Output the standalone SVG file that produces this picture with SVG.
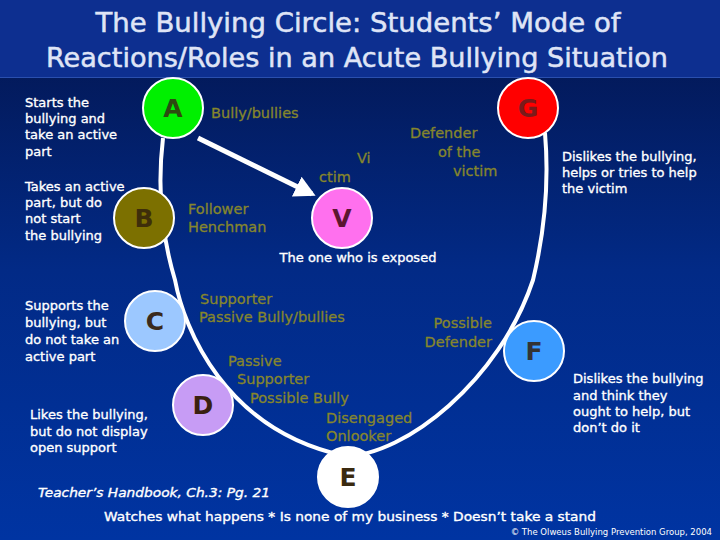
<svg xmlns="http://www.w3.org/2000/svg" width="720" height="540" viewBox="0 0 720 540">
<defs>
<linearGradient id="bg" x1="0" y1="0" x2="0" y2="1">
<stop offset="0" stop-color="#03144c"/>
<stop offset="0.5" stop-color="#022a86"/>
<stop offset="1" stop-color="#0034a2"/>
</linearGradient>
<marker id="arr" markerWidth="5" markerHeight="5" refX="3.4" refY="2.5" orient="auto" markerUnits="strokeWidth">
<path d="M0,0.3 L4.2,2.5 L0,4.7 Z" fill="#ffffff"/>
</marker>
<style>
.t{font-family:"DejaVu Sans",sans-serif;}
.w{fill:#ffffff;stroke:#ffffff;stroke-width:0.35px;font-size:13px;}
.o{fill:#86862c;stroke:#86862c;stroke-width:0.3px;font-size:14.5px;}
.lt{font-size:25px;font-weight:bold;text-anchor:middle;}
.c{stroke:#ffffff;stroke-width:2;}
.ttl{fill:#dfe4f6;stroke:#dfe4f6;stroke-width:0.5px;font-size:26px;text-anchor:middle;}
</style>
</defs>
<rect x="0" y="0" width="720" height="540" fill="url(#bg)"/>
<rect x="0" y="0" width="720" height="77" fill="#0d2f90"/>
<line x1="0" y1="77.5" x2="720" y2="77.5" stroke="#2a4fae" stroke-width="1"/>
<g id="title" class="t">
<text class="t ttl" x="358" y="32" textLength="525" lengthAdjust="spacingAndGlyphs">The Bullying Circle: Students’ Mode of</text>
<text class="t ttl" x="357" y="67" textLength="622" lengthAdjust="spacingAndGlyphs">Reactions/Roles in an Acute Bullying Situation</text>
</g>
<g id="connectors" fill="none" stroke="#ffffff">
<path d="M163,138 C158,180 160,230 175,280 C184,328 224,430 345,456 C405,456 500,380 533,280 C545,230 549,180 545,133" stroke-width="4"/>
<line x1="198" y1="138" x2="312" y2="194" stroke-width="5" marker-end="url(#arr)"/>
</g>
<g id="nodeA">
<circle class="c" cx="173" cy="108" r="30" fill="#00f000"/>
<text class="t lt" x="173" y="117" fill="#2d4a10">A</text>
<text class="t o" x="211" y="118">Bully/bullies</text>
<text class="t w" x="25" y="107">Starts the</text>
<text class="t w" x="25" y="123">bullying and</text>
<text class="t w" x="25" y="139">take an active</text>
<text class="t w" x="25" y="156">part</text>
</g>
<g id="nodeB">
<circle class="c" cx="144" cy="218" r="30" fill="#7c7000"/>
<text class="t lt" x="144" y="227" fill="#3e2e0a">B</text>
<text class="t o" x="188" y="214">Follower</text>
<text class="t o" x="188" y="232">Henchman</text>
<text class="t w" x="25" y="191">Takes an active</text>
<text class="t w" x="25" y="207">part, but do</text>
<text class="t w" x="25" y="223">not start</text>
<text class="t w" x="25" y="240">the bullying</text>
</g>
<g id="nodeV">
<circle class="c" cx="342" cy="218" r="30" fill="#ff70ee"/>
<text class="t lt" x="342" y="227" fill="#5c1530">V</text>
<text class="t o" x="357" y="163">Vi</text>
<text class="t o" x="319" y="182">ctim</text>
<text class="t w" x="358" y="262" text-anchor="middle">The one who is exposed</text>
</g>
<g id="nodeG">
<circle class="c" cx="528" cy="108" r="30" fill="#ff0000"/>
<text class="t lt" x="528" y="117" fill="#7a1a1a">G</text>
<text class="t o" x="410" y="138">Defender</text>
<text class="t o" x="438" y="157">of the</text>
<text class="t o" x="453" y="176">victim</text>
<text class="t w" x="562" y="161">Dislikes the bullying,</text>
<text class="t w" x="562" y="177">helps or tries to help</text>
<text class="t w" x="562" y="193">the victim</text>
</g>
<g id="nodeC">
<circle class="c" cx="155" cy="321" r="30" fill="#9cc8ff"/>
<text class="t lt" x="155" y="330" fill="#3a2a1c">C</text>
<text class="t o" x="200" y="304">Supporter</text>
<text class="t o" x="199" y="322">Passive Bully/bullies</text>
<text class="t w" x="25" y="310">Supports the</text>
<text class="t w" x="25" y="327">bullying, but</text>
<text class="t w" x="25" y="344">do not take an</text>
<text class="t w" x="25" y="361">active part</text>
</g>
<g id="nodeD">
<circle class="c" cx="203" cy="405" r="30" fill="#c79cf5"/>
<text class="t lt" x="203" y="414" fill="#3a2010">D</text>
<text class="t o" x="228" y="366">Passive</text>
<text class="t o" x="237" y="384">Supporter</text>
<text class="t o" x="250" y="403">Possible Bully</text>
<text class="t w" x="30" y="419">Likes the bullying,</text>
<text class="t w" x="30" y="436">but do not display</text>
<text class="t w" x="30" y="452">open support</text>
</g>
<g id="nodeE">
<circle class="c" cx="348" cy="477" r="30" fill="#ffffff"/>
<text class="t lt" x="348" y="486" fill="#3a2a10">E</text>
<text class="t o" x="326" y="423">Disengaged</text>
<text class="t o" x="326" y="441">Onlooker</text>
<text class="t w" x="350" y="521" text-anchor="middle" textLength="492" lengthAdjust="spacingAndGlyphs">Watches what happens * Is none of my business * Doesn’t take a stand</text>
</g>
<g id="nodeF">
<circle class="c" cx="534" cy="351" r="30" fill="#3b9bff"/>
<text class="t lt" x="534" y="360" fill="#333333">F</text>
<text class="t o" x="492" y="328" text-anchor="end">Possible</text>
<text class="t o" x="492" y="347" text-anchor="end">Defender</text>
<text class="t w" x="573" y="383">Dislikes the bullying</text>
<text class="t w" x="573" y="400">and think they</text>
<text class="t w" x="573" y="416">ought to help, but</text>
<text class="t w" x="573" y="432">don’t do it</text>
</g>
<g id="footer">
<text class="t w" x="38" y="497" font-style="italic" textLength="232" lengthAdjust="spacingAndGlyphs">Teacher’s Handbook, Ch.3: Pg. 21</text>
<text class="t" x="712" y="535" fill="#ffffff" font-size="8.5" text-anchor="end">© The Olweus Bullying Prevention Group, 2004</text>
</g>
</svg>
